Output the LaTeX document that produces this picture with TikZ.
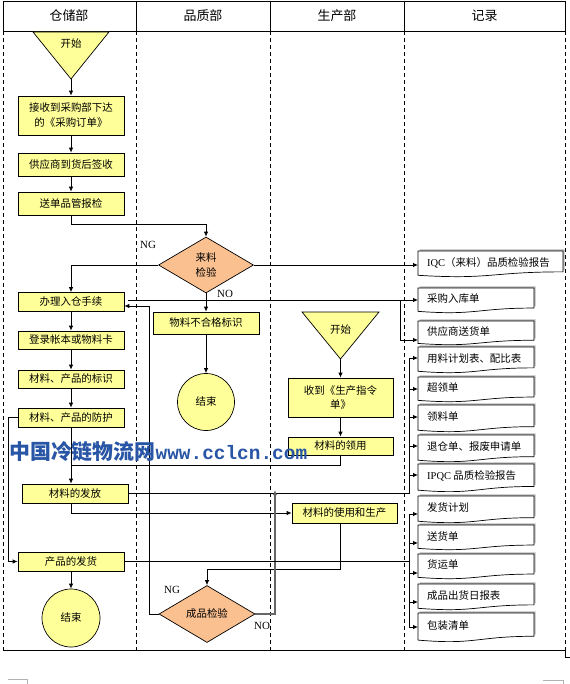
\documentclass[tikz,border=0pt]{standalone}
\usepackage{fontspec}
\setmainfont{Liberation Serif}
\setmonofont{Liberation Mono}
\newfontfamily\cjk{Noto Sans CJK SC}
\usetikzlibrary{arrows.meta,shapes.geometric,calc}
\definecolor{byellow}{RGB}{255,255,153}
\definecolor{dorange}{RGB}{250,192,144}
\definecolor{wmblue}{RGB}{40,85,165}
\tikzset{
  box/.style={draw, line width=0.7bp, fill=byellow, inner sep=0pt,
    font=\cjk\fontsize{10.5}{15}\selectfont, align=center},
  dia/.style={draw, line width=0.7bp, fill=dorange, diamond, inner sep=0pt,
    font=\cjk\fontsize{10.5}{15}\selectfont, align=center},
  endc/.style={draw, line width=0.7bp, fill=byellow, circle, inner sep=0pt,
    font=\cjk\fontsize{10.5}{13}\selectfont},
  arr/.style={line width=0.8bp, -{Latex[length=5bp,width=4.5bp]}},
  garr/.style={line width=1.3bp, draw=gray!80!black, -{Latex[length=5bp,width=4.5bp]}},
  ln/.style={line width=0.8bp},
  lane/.style={line width=0.8bp, dash pattern=on 4bp off 3bp},
  lbl/.style={font=\fontsize{11}{12}\selectfont, inner sep=0pt},
  hdr/.style={font=\cjk\fontsize{13}{15}\selectfont, inner sep=0pt},
  doctext/.style={font=\cjk\fontsize{10.5}{13}\selectfont, inner sep=0pt},
  tri/.style={draw, line width=0.7bp, fill=byellow},
  docline/.style={draw, line width=0.7bp, fill=white},
}
\newcommand\recdoc[6]{%
  \pgfmathsetmacro\dh{#5-#3}%
  \pgfmathsetmacro\dw{#4-#2}%
  \pgfmathsetmacro\ya{#3+0.802*\dh}%
  \pgfmathsetmacro\yb{#3+1.107*\dh}%
  \pgfmathsetmacro\yc{#3+0.934*\dh}%
  \pgfmathsetmacro\xm{(#2+#4)/2}%
  \pgfmathsetmacro\yt{#3+0.44*\dh}%
  \begin{scope}[shift={(1.6,-1.6)}]
    \fill[gray!55] (#2,#3) -- (#4,#3) -- (#4,\ya) .. controls (\xm,\ya) and (\xm,\yb) .. (#2,\yc) -- cycle;
  \end{scope}
  \path[docline] (#2,#3) -- (#4,#3) -- (#4,\ya) .. controls (\xm,\ya) and (\xm,\yb) .. (#2,\yc) -- cycle;
  \node[doctext, anchor=west] at ({#2+9},\yt) {#6};
  \node[inner sep=0pt, minimum width=\dw bp, minimum height=\dh bp, anchor=north west] (#1) at (#2,#3) {};
}
\begin{document}
\begin{tikzpicture}[x={(1bp,0)}, y={(0,-1bp)}]
\useasboundingbox (0,0) rectangle (570,684);
\fill[white] (0,0) rectangle (570,684);

% header
\draw[line width=0.8bp] (3,1) rectangle (565,31);
\foreach \xx in {136,270,404} \draw[line width=0.8bp] (\xx,1) -- (\xx,31);
\node[hdr] (h1) at (69,16) {仓储部};
\node[hdr] (h2) at (203,16) {品质部};
\node[hdr] (h3) at (337,16) {生产部};
\node[hdr] (h4) at (484.5,16) {记录};

% lanes
\foreach \xx in {3,136,270,404,565} \draw[lane] (\xx,31) -- (\xx,650);
\draw[line width=0.8bp] (3,650) -- (566,650);
\draw[line width=0.6bp] (565,650) -- (565,657) -- (570,657);
\draw[gray!60, line width=0.6bp] (8,679) -- (27,679) -- (27,684);
\draw[gray!60, line width=0.6bp] (543,680) -- (563,680) -- (563,684);

% start triangles
\path[tri] (33,32) -- (109,32) -- (71,79) -- cycle;
\node[doctext] (s1t) at (71,44) {开始};
\coordinate (s1) at (71,79);
\path[tri] (302,312) -- (379,312) -- (340.5,359) -- cycle;
\node[doctext] (s2t) at (340.5,330) {开始};
\coordinate (s2) at (340.5,359);

% warehouse boxes
\node[box, minimum width=106bp, minimum height=39bp] (b1) at (71,115.5) {接收到采购部下达\\的《采购订单》};
\node[box, minimum width=106bp, minimum height=23bp] (b2) at (71,164.5) {供应商到货后签收};
\node[box, minimum width=106bp, minimum height=23bp] (b3) at (71,203.5) {送单品管报检};
\node[box, minimum width=106bp, minimum height=19bp] (b4) at (71,302) {办理入仓手续};
\node[box, minimum width=106bp, minimum height=18bp] (b5) at (71,340) {登录帐本或物料卡};
\node[box, minimum width=106bp, minimum height=18bp] (b6) at (71,379) {材料、产品的标识};
\node[box, minimum width=106bp, minimum height=19bp] (b7) at (71,417.5) {材料、产品的防护};
\node[box, minimum width=106bp, minimum height=19bp] (b8) at (75,493.5) {材料的发放};
\node[box, minimum width=106bp, minimum height=19bp] (b9) at (71,561.5) {产品的发货};
\node[endc, minimum size=58bp] (e2) at (71,618) {结束};

% quality
\node[dia, minimum width=95bp, minimum height=56bp] (d1) at (206,265) {来料\\检验};
\node[box, minimum width=106bp, minimum height=22bp] (q1) at (206,323) {物料不合格标识};
\node[endc, minimum size=57bp] (e1) at (206,402) {结束};
\node[dia, minimum width=96bp, minimum height=57bp] (d2) at (207,614) {成品检验};

% production
\node[box, minimum width=105bp, minimum height=39bp] (p1) at (340.5,397.5) {收到《生产指令\\单》};
\node[box, minimum width=105bp, minimum height=18bp] (p2) at (340.5,446) {材料的领用};
\node[box, minimum width=105bp, minimum height=20bp] (p3) at (344.5,513) {材料的使用和生产};

% records
\recdoc{iqc}{418}{251}{563}{277}{{\rmfamily IQC}（来料）品质检验报告}
\recdoc{r1}{418}{288}{534}{313}{采购入库单}
\recdoc{r2}{418}{321}{534}{345}{供应商送货单}
\recdoc{r3}{418}{347}{534}{373}{用料计划表、配比表}
\recdoc{r4}{418}{377}{534}{402}{超领单}
\recdoc{r5}{418}{405}{534}{432}{领料单}
\recdoc{r6}{418}{435}{534}{462}{退仓单、报废申请单}
\recdoc{r7}{418}{464}{534}{492}{{\rmfamily IPQC} 品质检验报告}
\recdoc{r8}{418}{496}{534}{523}{发货计划}
\recdoc{r9}{418}{525}{534}{550}{送货单}
\recdoc{r10}{418}{554}{534}{579}{货运单}
\recdoc{r11}{418}{584}{534}{610}{成品出货日报表}
\recdoc{r12}{418}{613}{534}{642}{包装清单}

% connectors: warehouse flow
\draw[arr] (s1) -- (b1);
\draw[arr] (b1) -- (b2);
\draw[arr] (b2) -- (b3);
\draw[arr] (b3.south) -- ++(0,9) -| (d1.north);
\draw[arr] (d1.west) -| (b4.north);
\draw[arr] (d1.east) -- (iqc.west |- d1.east);
\draw[arr] (d1.south) -- (q1.north);
\draw[arr] (q1) -- (e1);
\node[lbl] (ng1) at (148,245) {NG};
\node[lbl] (no1) at (225,294) {NO};

\coordinate (s300) at (128,300);
\coordinate (br1) at (400,300);
\draw[arr] (s300) -- (r1.west |- s300);
\draw[arr] (br1) |- (r2.west |- 0,340);

\draw[arr] (b4) -- (b5);
\draw[arr] (b5) -- (b6);
\draw[arr] (b6) -- (b7);
\draw[arr] (b7.south) -- (b7.south |- b8.north);
\draw[arr] (b7.west) -- (8,417.5) |- (b9.west);
\draw[ln] (p2.south) -- (p2.south |- 0,465) -- (b7.south |- 0,465);

% material issue -> records
\draw[ln] (b8.east) -- (409,493.5) -- (409,358);
\draw[arr] (409,358) -- (r3.west |- 0,358);
\draw[arr] (409,389) -- (r4.west |- 0,389);
\draw[arr] (409,417) -- (r5.west |- 0,417);
\draw[arr] (409,446) -- (r6.west |- 0,446);
\draw[arr] (409,475) -- (r7.west |- 0,475);
\draw[arr] (b7.south |- b8.south) |- (p3.west);

% production flow
\draw[arr] (s2) -- (p1);
\draw[arr] (p1) -- (p2);
\draw[arr] (p2.south |- p3.south) -- (p2.south |- 0,569) -| (d2.north);

% final inspection
\draw[arr] (d2.west) -- (149,614) -- (149,306) -- (b4.east |- 0,306);
\draw[garr] (d2.east) -- (275,614) -- (275,490);
\node[lbl] (ng2) at (172,590) {NG};
\node[lbl] (no2) at (262,626) {NO};

% shipping
\draw[arr] (b9) -- (e2);
\draw[ln] (b9.east) -- (409,561.5);
\draw[ln] (409,514) -- (409,627);
\draw[arr] (409,514) -- (r8.west |- 0,514);
\draw[arr] (409,543) -- (r9.west |- 0,543);
\draw[arr] (409,573) -- (r10.west |- 0,573);
\draw[arr] (409,602) -- (r11.west |- 0,602);
\draw[arr] (409,627) -- (r12.west |- 0,627);

% watermark
\node[anchor=base west, inner sep=0pt, text=wmblue] (wm) at (9,459)
  {{\cjk\bfseries\fontsize{21}{24}\selectfont 中国冷链物流网}{\ttfamily\bfseries\fontsize{19.5}{24}\selectfont www.cclcn.com}};
\end{tikzpicture}
\end{document}
